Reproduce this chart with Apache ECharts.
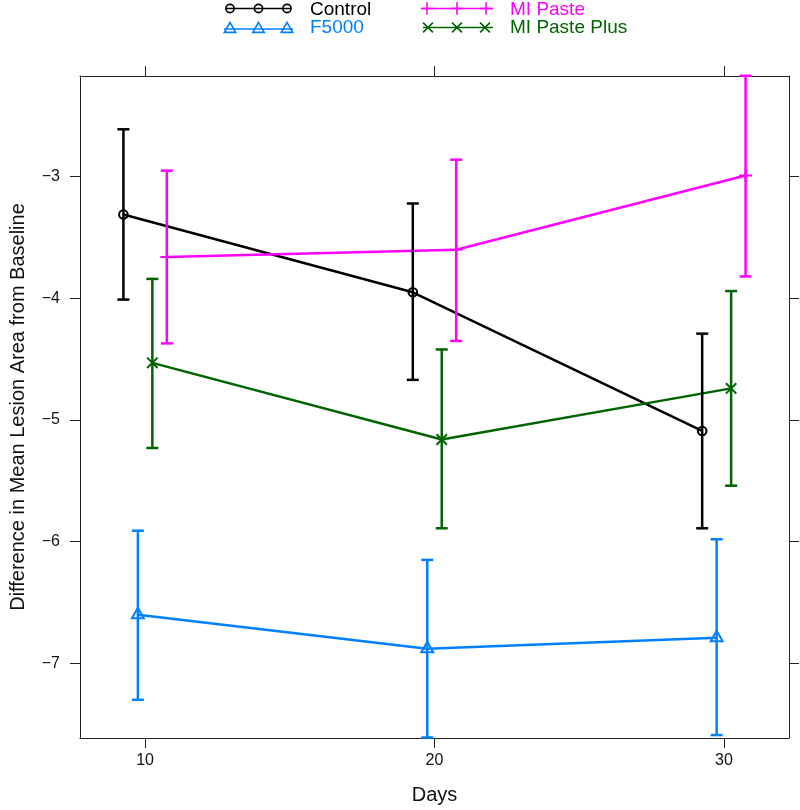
<!DOCTYPE html>
<html>
<head>
<meta charset="utf-8">
<script src="https://cdn.jsdelivr.net/npm/echarts@6/dist/echarts.min.js"></script>
<style>
html,body{margin:0;padding:0;background:#fff;}
#chart{width:800px;height:810px;}
</style>
</head>
<body>
<div id="chart"></div>
<script>
// ---- data ----
const days = [10, 20, 30];
const groupNames = ['Control', 'F5000', 'MI Paste', 'MI Paste Plus'];

const controlMean = [-3.31, -3.95, -5.09];
const controlLow  = [-4.01, -4.67, -5.89];
const controlHigh = [-2.61, -3.22, -4.29];

const f5000Mean = [-6.60, -6.88, -6.79];
const f5000Low  = [-7.30, -7.61, -7.59];
const f5000High = [-5.91, -6.15, -5.98];

const miPasteMean = [-3.66, -3.60, -2.99];
const miPasteLow  = [-4.37, -4.35, -3.82];
const miPasteHigh = [-2.95, -2.86, -2.17];

const miPlusMean = [-4.53, -5.16, -4.74];
const miPlusLow  = [-5.23, -5.89, -5.54];
const miPlusHigh = [-3.84, -4.42, -3.94];

const xTicks = [10, 20, 30];
const yTicks = [-7, -6, -5, -4, -3];

// ---- presentation ----
const FONT = 'Liberation Sans, Arial, Helvetica, sans-serif';
const dodge = [-0.75, -0.25, 0.75, 0.25];
const colors = ['#000000', '#0080ff', '#ff00ff', '#006400'];
const markers = ['circle', 'triangle', 'plus', 'cross'];
const means = [controlMean, f5000Mean, miPasteMean, miPlusMean];
const lows = [controlLow, f5000Low, miPasteLow, miPlusLow];
const highs = [controlHigh, f5000High, miPasteHigh, miPlusHigh];

function markerShapes(kind, cx, cy, color, lw, s) {
  s = s || 1;
  const st = {stroke: color, lineWidth: lw, fill: 'none'};
  if (kind === 'circle') {
    return [{type: 'circle', shape: {cx: cx, cy: cy, r: 4.3 * s}, style: st}];
  }
  if (kind === 'triangle') {
    const hw = 6 * s, top = 6.9 * s, bot = 3.5 * s;
    return [{type: 'polygon', shape: {points: [[cx, cy - top], [cx + hw, cy + bot], [cx - hw, cy + bot]]}, style: st}];
  }
  if (kind === 'plus') {
    const h = 6.5 * s;
    return [
      {type: 'line', shape: {x1: cx - h, y1: cy, x2: cx + h, y2: cy}, style: st},
      {type: 'line', shape: {x1: cx, y1: cy - h, x2: cx, y2: cy + h}, style: st}
    ];
  }
  const h = 5.2 * s;
  return [
    {type: 'line', shape: {x1: cx - h, y1: cy - h, x2: cx + h, y2: cy + h}, style: st},
    {type: 'line', shape: {x1: cx - h, y1: cy + h, x2: cx + h, y2: cy - h}, style: st}
  ];
}

const series = [];
groupNames.forEach(function (name, g) {
  const pts = days.map(function (d, i) { return [d + dodge[g], means[g][i]]; });
  series.push({
    name: name, type: 'line', data: pts, symbol: 'none',
    lineStyle: {color: colors[g], width: 2.5}, z: 2, silent: true
  });
  const bars = days.map(function (d, i) { return [d + dodge[g], means[g][i], lows[g][i], highs[g][i]]; });
  series.push({
    name: name + ' bars', type: 'custom', data: bars, z: 3, silent: true,
    encode: {x: 0, y: [1, 2, 3]},
    renderItem: function (params, api) {
      const x = api.value(0);
      const pm = api.coord([x, api.value(1)]);
      const pl = api.coord([x, api.value(2)]);
      const ph = api.coord([x, api.value(3)]);
      const st = {stroke: colors[g], lineWidth: 2.5};
      const cw = 6;
      const children = [
        {type: 'line', shape: {x1: pl[0], y1: pl[1], x2: ph[0], y2: ph[1]}, style: st},
        {type: 'line', shape: {x1: pl[0] - cw, y1: pl[1], x2: pl[0] + cw, y2: pl[1]}, style: st},
        {type: 'line', shape: {x1: ph[0] - cw, y1: ph[1], x2: ph[0] + cw, y2: ph[1]}, style: st}
      ].concat(markerShapes(markers[g], pm[0], pm[1], colors[g], 2));
      return {type: 'group', children: children};
    }
  });
});

// legend built as graphic elements
const legendSpec = [
  {g: 0, x0: 226, x1: 291, xs: [230, 258.5, 287], y: 8.5, tx: 310, ty: 9.5},
  {g: 1, x0: 224, x1: 293, xs: [230, 258.5, 287], y: 29, tx: 310, ty: 28},
  {g: 2, x0: 423, x1: 493, xs: [427, 457, 486], y: 8.5, tx: 510, ty: 9.5},
  {g: 3, x0: 423, x1: 493, xs: [428, 457, 485], y: 27.5, tx: 510, ty: 28}
];
const graphics = [];
legendSpec.forEach(function (L) {
  const c = colors[L.g];
  graphics.push({type: 'line', shape: {x1: L.x0, y1: L.y, x2: L.x1, y2: L.y}, style: {stroke: c, lineWidth: 1.6}, silent: true});
  L.xs.forEach(function (x) {
    markerShapes(markers[L.g], x, L.y, c, 1.6, 0.95).forEach(function (m) { m.silent = true; graphics.push(m); });
  });
  graphics.push({type: 'text', x: L.tx, y: L.ty, silent: true,
    style: {text: groupNames[L.g], fill: c, font: '19px ' + FONT, textVerticalAlign: 'middle', textAlign: 'left'}});
});

const axisLineStyle = {color: '#222', width: 1};
const tickStyle = {color: '#222', width: 1};

const xMin = 7.75, xMax = 32.25;
const yMin = -7.614, yMax = -2.172;

const option = {
  animation: false,
  backgroundColor: '#ffffff',
  grid: {left: 73, right: 11, top: 76, bottom: 70, containLabel: false},
  xAxis: [
    {type: 'value', position: 'bottom', min: xMin, max: xMax,
     axisLine: {show: true, onZero: false, lineStyle: axisLineStyle},
     axisTick: {show: true, inside: false, length: 10, customValues: xTicks, lineStyle: tickStyle},
     axisLabel: {show: true, customValues: xTicks, margin: 15, fontSize: 16, color: '#111', fontFamily: FONT},
     splitLine: {show: false},
     name: 'Days', nameLocation: 'middle', nameGap: 47,
     nameTextStyle: {fontSize: 20, color: '#111', fontFamily: FONT}},
    {type: 'value', position: 'top', min: xMin, max: xMax,
     axisLine: {show: true, onZero: false, lineStyle: axisLineStyle},
     axisTick: {show: true, inside: false, length: 10, customValues: xTicks, lineStyle: tickStyle},
     axisLabel: {show: false, customValues: xTicks},
     splitLine: {show: false}}
  ],
  yAxis: [
    {type: 'value', position: 'left', min: yMin, max: yMax,
     axisLine: {show: true, onZero: false, lineStyle: axisLineStyle},
     axisTick: {show: true, inside: false, length: 10, customValues: yTicks, lineStyle: tickStyle},
     axisLabel: {show: true, customValues: yTicks, margin: 20, fontSize: 16, color: '#111', fontFamily: FONT,
       formatter: function (v) { return String(Math.round(v)).replace('-', '\u2212'); }},
     splitLine: {show: false},
     name: 'Difference in Mean Lesion Area from Baseline', nameLocation: 'middle', nameGap: 52, nameRotate: 90,
     nameTextStyle: {fontSize: 20, color: '#111', fontFamily: FONT}},
    {type: 'value', position: 'right', min: yMin, max: yMax,
     axisLine: {show: true, onZero: false, lineStyle: axisLineStyle},
     axisTick: {show: true, inside: false, length: 10, customValues: yTicks, lineStyle: tickStyle},
     axisLabel: {show: false, customValues: yTicks},
     splitLine: {show: false}}
  ],
  graphic: graphics,
  series: series
};

const chart = echarts.init(document.getElementById('chart'), null, {renderer: 'canvas'});
chart.setOption(option);
</script>
</body>
</html>
